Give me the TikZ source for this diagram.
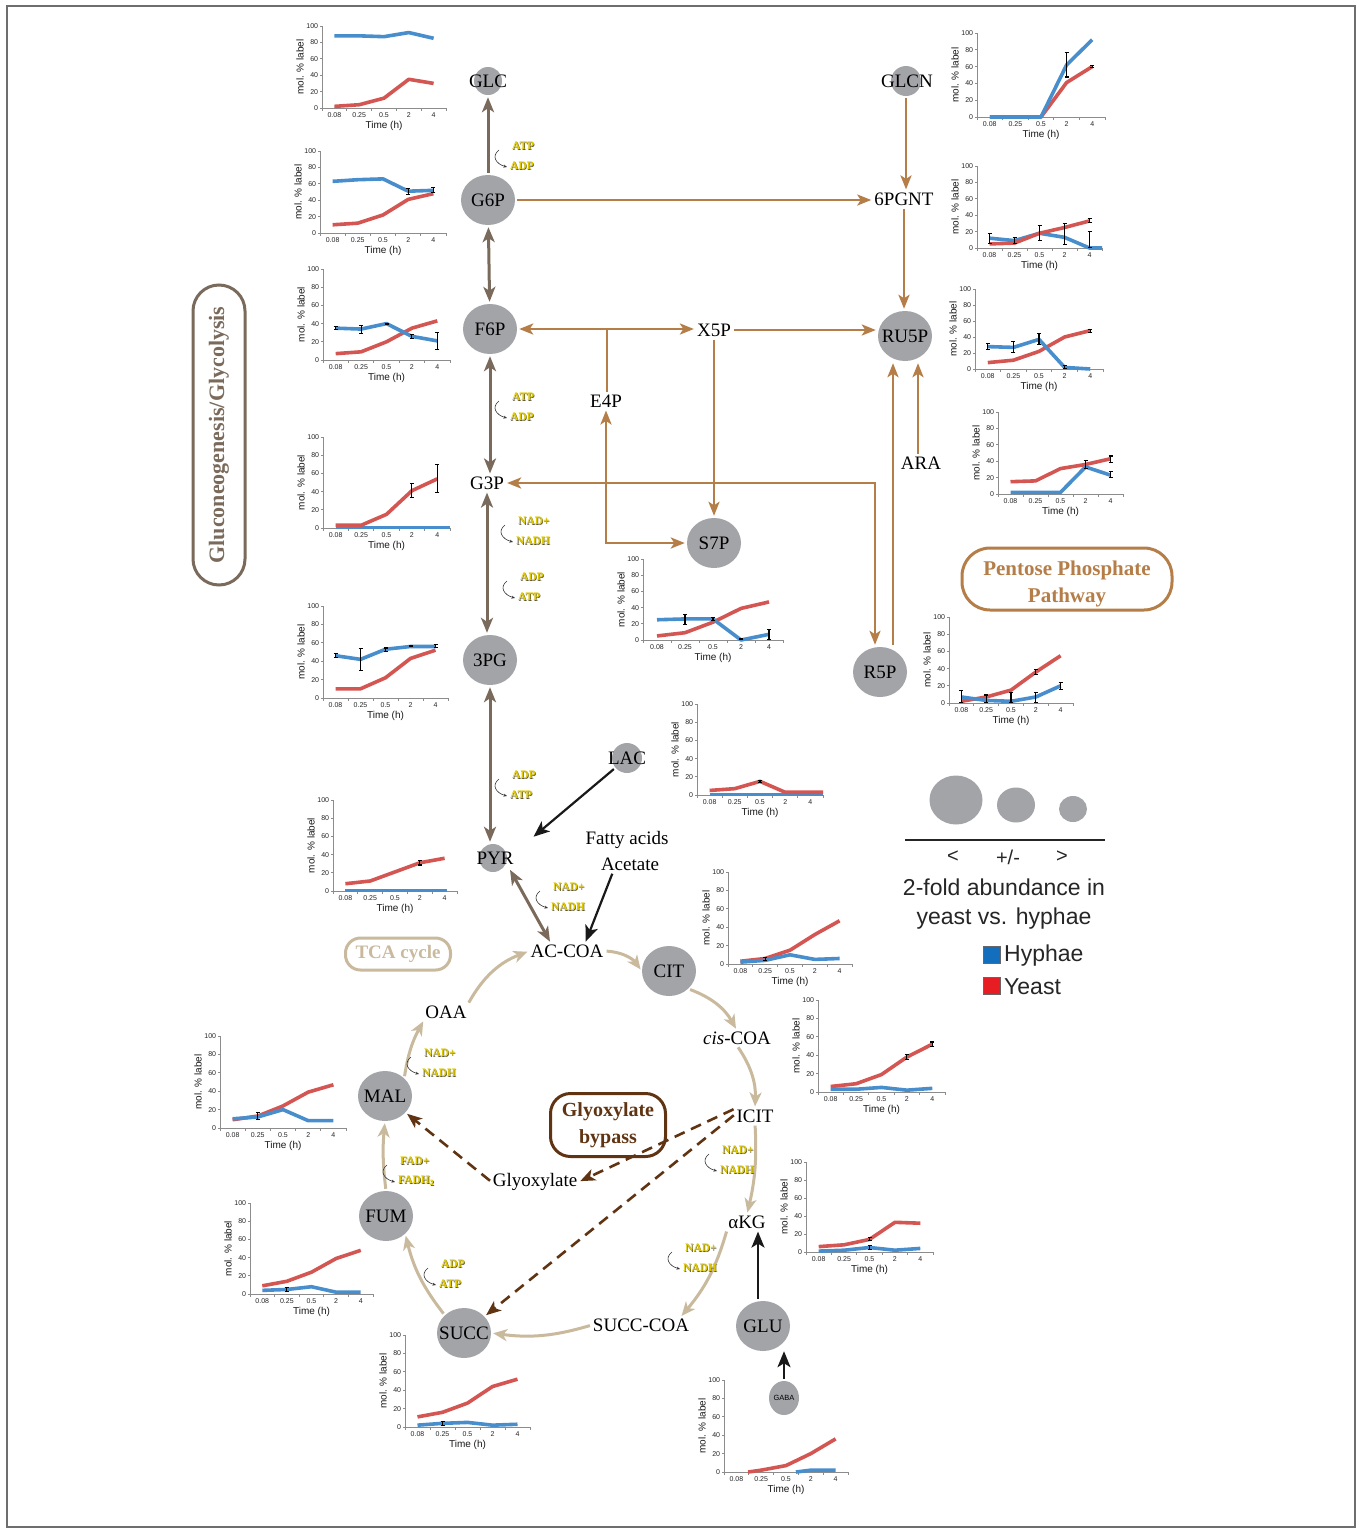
\documentclass[tikz,border=0pt]{standalone}
\usepackage{fontspec}
\setmainfont{Liberation Serif}
\setsansfont{Liberation Sans}
\usetikzlibrary{arrows.meta,shapes.geometric,calc}

\definecolor{glyc}{RGB}{122,106,92}
\definecolor{ppp}{RGB}{181,126,72}
\definecolor{tca}{RGB}{201,186,158}
\definecolor{glyox}{RGB}{96,52,18}
\definecolor{nodegray}{RGB}{163,164,168}
\definecolor{serblue}{RGB}{72,142,205}
\definecolor{serred}{RGB}{212,86,82}
\definecolor{axisgray}{RGB}{140,140,140}
\definecolor{cofy}{RGB}{222,200,0}
\definecolor{cofd}{RGB}{95,85,40}
\definecolor{framegray}{RGB}{110,110,110}
\definecolor{hyph}{RGB}{20,110,190}
\definecolor{yeast}{RGB}{230,30,35}

\newcommand\metfont{\fontsize{19}{21}\selectfont}
\newcommand\zw[1]{\makebox[0pt]{#1}}

\newcommand\chbegin[4]{%
  \pgfmathsetmacro\cw{#3/5}%
  \pgfmathsetmacro\chh{#4/100}%
  \begin{scope}[shift={(#1,#2)},x=\cw pt,y=\chh pt]
  \draw[axisline] (0,100) -- (0,0) -- (5,0);
  \foreach \v in {0,20,40,60,80,100} {\draw[axisline] (0,\v) -- ++(-2.5pt,0pt) node[ticklab,anchor=east]{\v};}
  \foreach \i in {0,...,5} {\draw[axisline] (\i,0) -- ++(0pt,-2.5pt);}
  \foreach \t [count=\i] in {0.08,0.25,0.5,2,4} {\node[ticklab,anchor=north] at ([yshift=-3pt]\i-0.5,0) {\t};}
  \node[axlab,anchor=north] at ([yshift=-13pt]2.5,0) {Time (h)};
  \node[axlab,rotate=90,anchor=south] at ([xshift=-18pt]0,50) {mol. \% label};
}
\newcommand\chend{\end{scope}}
\newcommand\myfive[6]{\draw[ser,#1] (0.5,#2)--(1.5,#3)--(2.5,#4)--(3.5,#5)--(4.5,#6);}
\newcommand\myeb[3]{\draw[errbar] (#1-0.5,#2)--(#1-0.5,#3);}

\newcommand\cofac[5]{%
  \node[cof,text=cofd] (#1s) at (#2+0.6,#3+0.6) {#4};
  \node[cof,text=cofy] (#1) at (#2,#3) {#4};
  \node[cof,text=cofd] (#1bs) at (#2-2+0.6,#3+20.6) {#5};
  \node[cof,text=cofy] (#1b) at (#2-2,#3+20) {#5};
  \draw[cofarr] (#2-13,#3+4) .. controls (#2-21,#3+10) and (#2-16,#3+18) .. (#2-5,#3+21);
}

\begin{document}
\begin{tikzpicture}[x=1pt,y=-1pt,
  met/.style={ellipse,fill=nodegray,minimum width=54pt,minimum height=50pt,inner sep=0pt,font=\metfont},
  smallc/.style={circle,fill=nodegray,minimum size=#1,inner sep=0pt,font=\metfont},
  mtxt/.style={inner sep=1pt,font=\metfont},
  ticklab/.style={font=\sffamily\fontsize{7}{8}\selectfont,inner sep=1pt,text=black!85},
  axlab/.style={font=\sffamily\fontsize{10}{11}\selectfont,inner sep=0pt,text=black!90},
  axisline/.style={draw=axisgray,line width=0.8pt},
  ser/.style={line width=3.6pt,line join=round,line cap=butt},
  errbar/.style={black,line width=1.1pt,{Bar[width=4pt]}-{Bar[width=4pt]}},
  cof/.style={anchor=west,inner sep=0pt,font=\bfseries\fontsize{11.5}{13}\selectfont},
  cofarr/.style={black!80,line width=0.6pt,-{Stealth[length=3.5pt,width=3pt]}},
  glyarr/.style={draw=glyc,line width=3pt,>={Stealth[length=15pt,width=12pt,inset=4pt]},shorten >=2pt,shorten <=2pt},
  ppparr/.style={draw=ppp,line width=2.6pt,>={Stealth[length=14pt,width=11pt,inset=3.5pt]},shorten >=2pt,shorten <=2pt},
  tcaarr/.style={draw=tca,line width=3pt,>={Stealth[length=14pt,width=12pt,inset=4pt]},shorten >=2pt,shorten <=2pt},
  gxarr/.style={draw=glyox,line width=2.6pt,dash pattern=on 11pt off 7pt,>={Stealth[length=15pt,width=12pt,inset=4pt]},shorten >=2pt,shorten <=2pt},
  blkarr/.style={draw=black!90,line width=2.2pt,>={Stealth[length=16pt,width=13pt,inset=4pt]},shorten >=2pt,shorten <=2pt},
  legt/.style={font=\sffamily\fontsize{23}{29}\selectfont,inner sep=1pt,text=black!85},
]
\useasboundingbox (0,0) rectangle (1362,1529);
\fill[white] (0,0) rectangle (1362,1529);
\draw[framegray,line width=1.5pt] (7,6) rectangle (1355,1527);

% ---------------- charts ----------------
% GLC
\chbegin{322}{108}{124}{82}
\myfive{serred}{2}{4}{12}{35}{30}
\myfive{serblue}{88}{88}{87}{92}{85}
\chend
% G6P
\chbegin{320}{233}{126}{82}
\myfive{serred}{10}{12}{22}{41}{48}
\myfive{serblue}{63}{65}{66}{51}{52}
\myeb{4}{46}{55}\myeb{5}{49}{56}
\chend
% F6P
\chbegin{323}{360}{127}{91}
\myfive{serred}{7}{9}{20}{35}{43}
\myfive{serblue}{35}{34}{40}{26}{21}
\myeb{1}{33}{37}\myeb{2}{29}{39}\myeb{3}{38}{41}\myeb{4}{23}{29}\myeb{5}{11}{31}
\chend
% G3P
\chbegin{323}{528}{127}{91}
\draw[ser,serblue] (0.5,0.5) -- (5,0.5);
\myfive{serred}{3}{3}{15}{41}{54}
\myeb{4}{33}{50}\myeb{5}{38}{70}
\chend
% 3PG
\chbegin{323}{698}{125}{92}
\myfive{serred}{10}{10}{22}{43}{52}
\myfive{serblue}{46}{42}{53}{56}{56}
\myeb{1}{43}{49}\myeb{2}{29}{54}\myeb{3}{50}{55}\myeb{4}{55}{58}\myeb{5}{54}{59}
\chend
% PYR
\chbegin{333}{891}{124}{91}
\draw[ser,serblue] (0.5,0.5) -- (4.6,0.5);
\myfive{serred}{8}{11}{21}{31}{36}
\myeb{4}{28}{34}
\chend
% GLCN
\chbegin{977}{117}{128}{84}
\myfive{serred}{0}{0}{0}{41}{60}
\myfive{serblue}{0}{0}{0}{62}{92}
\myeb{4}{47}{77}\myeb{5}{58}{62}
\chend
% 6PGNT
\chbegin{977}{248}{125}{82}
\draw[ser,serblue] (0.5,12)--(1.5,9)--(2.5,18)--(3.5,13)--(4.5,0)--(5,0);
\myfive{serred}{5}{6}{18}{25}{33}
\myeb{1}{5}{18}\myeb{2}{5}{13}\myeb{3}{9}{28}\myeb{4}{4}{31}\myeb{5}{0}{21}\myeb{5}{30}{37}
\chend
% RU5P
\chbegin{975}{369}{128}{80}
\myfive{serred}{8}{11}{22}{40}{48}
\myfive{serblue}{28}{27}{37}{2}{0}
\myeb{1}{24}{33}\myeb{2}{20}{35}\myeb{3}{30}{45}\myeb{4}{0}{5}\myeb{5}{45}{50}
\chend
% ARA
\chbegin{998}{494}{125}{82}
\myfive{serred}{15}{16}{31}{36}{43}
\myfive{serblue}{2}{2}{2}{33}{23}
\myeb{4}{30}{42}\myeb{5}{19}{28}\myeb{5}{38}{47}
\chend
% R5P
\chbegin{949}{703}{124}{86}
\myfive{serred}{2}{7}{15}{36}{55}
\myfive{serblue}{7}{3}{2}{7}{20}
\myeb{1}{0}{15}\myeb{2}{0}{10}\myeb{3}{0}{13}\myeb{4}{0}{13}\myeb{4}{33}{40}\myeb{5}{15}{25}
\chend
% S7P
\chbegin{643}{640}{140}{81}
\myfive{serred}{5}{9}{22}{39}{47}
\myfive{serblue}{25}{26}{26}{0}{7}
\myeb{2}{19}{32}\myeb{3}{23}{29}\myeb{4}{0}{3}\myeb{5}{0}{14}
\chend
% LAC
\chbegin{697}{795}{126}{91}
\draw[ser,serblue] (0.5,0.5) -- (5,0.5);
\draw[ser,serred] (0.5,5)--(1.5,7)--(2.5,15)--(3.5,3)--(4.5,3)--(5,3);
\myeb{3}{13}{17}
\chend
% CIT
\chbegin{728}{964}{124}{92}
\myfive{serred}{3}{6}{15}{32}{47}
\myfive{serblue}{2}{4}{10}{5}{6}
\myeb{2}{3}{8}
\chend
% cis-COA
\chbegin{818}{1092}{127}{92}
\myfive{serred}{6}{9}{19}{38}{52}
\myfive{serblue}{3}{3}{5}{2}{4}
\myeb{4}{35}{41}\myeb{5}{49}{55}
\chend
% aKG
\chbegin{806}{1252}{127}{90}
\myfive{serred}{6}{8}{14}{33}{32}
\myfive{serblue}{1}{2}{5}{2}{4}
\myeb{3}{2}{8}\myeb{3}{12}{17}
\chend
% MAL
\chbegin{220}{1128}{126}{92}
\myfive{serred}{9}{13}{24}{39}{47}
\myfive{serblue}{10}{12}{20}{8}{8}
\myeb{2}{9}{17}
\chend
% FUM
\chbegin{250}{1294}{123}{91}
\myfive{serred}{9}{14}{24}{39}{48}
\myfive{serblue}{4}{5}{8}{2}{2}
\myeb{2}{2}{8}
\chend
% SUCC
\chbegin{405}{1427}{125}{92}
\myfive{serred}{11}{16}{26}{44}{52}
\myfive{serblue}{2}{4}{5}{2}{3}
\myeb{2}{1}{7}
\chend
% GABA
\chbegin{724}{1472}{124}{92}
\draw[ser,serblue] (2.9,0)--(3.5,2)--(4.5,2);
\draw[ser,serred] (0.97,0)--(1.5,2)--(2.5,7)--(3.5,20)--(4.5,36);
\chend

% ---------------- metabolites ----------------
\node[smallc=28pt] (GLCc) at (488,81) {};
\node[mtxt] (GLC) at (488,81) {GLC};
\node[met] (G6P) at (488,200) {\zw{G6P}};
\node[met] (F6P) at (490,329) {\zw{F6P}};
\node[mtxt] (G3P) at (487,483) {G3P};
\node[met] (PG3) at (490,660) {\zw{3PG}};
\node[smallc=28pt] (PYR) at (493,858) {};
\node[mtxt] (PYRt) at (495,858) {PYR};
\node[smallc=30pt] (GLCNc) at (906,81) {};
\node[mtxt] (GLCN) at (907,81) {GLCN};
\node[mtxt] (PGNT) at (904,199) {6PGNT};
\node[mtxt] (X5P) at (714,330) {X5P};
\node[met] (RU5P) at (905,336) {\zw{RU5P}};
\node[mtxt] (E4P) at (606,401) {E4P};
\node[mtxt] (ARA) at (921,463) {ARA};
\node[met] (S7P) at (714,543) {\zw{S7P}};
\node[met] (R5P) at (880,672) {\zw{R5P}};
\node[smallc=30pt] (LAC) at (627,758) {};
\node[mtxt] (LACt) at (627,758) {LAC};
\node[mtxt,align=center,font=\fontsize{19}{26}\selectfont] (FA) at (627,851) {Fatty acids\\\hspace*{6pt}Acetate};
\node[mtxt] (ACCOA) at (567,951) {AC-COA};
\node[met] (CIT) at (669,971) {\zw{CIT}};
\node[mtxt] (cisCOA) at (737,1038) {\textit{cis}-COA};
\node[mtxt] (ICIT) at (755,1116) {ICIT};
\node[mtxt] (aKG) at (747,1222) {αKG};
\node[met] (GLU) at (763,1326) {\zw{GLU}};
\node[ellipse,fill=nodegray,minimum width=30pt,minimum height=34pt,inner sep=0pt,font=\sffamily\fontsize{7.5}{9}\selectfont] (GABA) at (784,1398) {\zw{GABA}};
\node[mtxt] (SUCCCOA) at (641,1325) {SUCC-COA};
\node[met] (SUCC) at (464,1333) {\zw{SUCC}};
\node[met] (FUM) at (386,1216) {\zw{FUM}};
\node[met] (MAL) at (385,1096) {\zw{MAL}};
\node[mtxt] (OAA) at (446,1012) {OAA};
\node[mtxt] (Glyox) at (535,1182) {Glyoxylate};

% ---------------- pathway labels ----------------
\node[draw=glyc,line width=3pt,rounded corners=26pt,rotate=90,minimum width=300pt,minimum height=52pt,inner sep=0pt,text=glyc,font=\bfseries\fontsize{22}{24}\selectfont] (gbox) at (219,435) {Gluconeogenesis/Glycolysis};
\node[draw=ppp,line width=3pt,rounded corners=28pt,minimum width=210pt,minimum height=62pt,inner sep=0pt] (pbox) at (1067,579) {};
\node[inner sep=0pt,align=center,text=ppp,font=\bfseries\fontsize{21}{27}\selectfont] (pboxt) at (1067,584) {Pentose Phosphate\\Pathway};
\node[draw=glyox,line width=3pt,rounded corners=20pt,minimum width=115pt,minimum height=63pt,inner sep=0pt,align=center,text=glyox,font=\bfseries\fontsize{20}{27}\selectfont] (gxbox) at (608,1125) {Glyoxylate\\bypass};
\node[draw=tca,line width=3pt,rounded corners=15pt,minimum width=105pt,minimum height=32pt,inner sep=0pt,text=tca,font=\bfseries\fontsize{19}{21}\selectfont] (tbox) at (398,954) {TCA cycle};

% ---------------- glycolysis arrows ----------------
\draw[glyarr,->] (G6P) -- (GLCc);
\draw[glyarr,<->] (G6P) -- (F6P);
\draw[glyarr,<->] (F6P.south) -- (F6P.south |- G3P.north);
\draw[glyarr,<->] (G3P.south) -- (G3P.south |- PG3.north);
\draw[glyarr,<->] (PG3.south) -- (PG3.south |- PYR.north);
\draw[glyarr,<->] ([xshift=6pt]PYR.south east) -- ([xshift=-16pt]ACCOA.north);

% ---------------- pentose phosphate arrows ----------------
\draw[ppparr,->] (G6P.east) -- (G6P.east -| PGNT.west);
\draw[ppparr,->] (GLCNc.south) -- (GLCNc.south |- PGNT.north);
\draw[ppparr,->] (PGNT.south) -- (PGNT.south |- RU5P.north);
\draw[ppparr,<->] (F6P.east) -- (F6P.east -| X5P.west);
\draw[ppparr,->] (X5P.east) -- (X5P.east -| RU5P.west);
\coordinate (br) at (607,329);
\draw[ppparr,shorten <=0pt] (br) -- (br |- E4P.north);
\draw[ppparr,<->] (E4P.south) |- (S7P.west);
\draw[ppparr,->] (X5P.south) -- (X5P.south |- S7P.north);
\draw[ppparr,<->] (G3P.east) -| ([xshift=-5pt]R5P.north);
\draw[ppparr,->] ([xshift=13pt]R5P.north) -- ([xshift=13pt]R5P.north |- RU5P.south);
\draw[ppparr,->] ([xshift=-3pt]ARA.north) -- ([xshift=-3pt]ARA.north |- RU5P.south);

% ---------------- TCA arrows ----------------
\draw[tcaarr,->] (ACCOA.east) to[bend left=25] (CIT.west);
\draw[tcaarr,->] (OAA.north east) to[bend left=20] (ACCOA.west);
\draw[tcaarr,->] (CIT.south east) to[bend left=20] (cisCOA.north);
\draw[tcaarr,->] (cisCOA.south) to[bend left=18] (ICIT.north);
\draw[tcaarr,->] (ICIT.south) to[bend left=8] (aKG.north);
\draw[tcaarr,->] (aKG.south west) to[bend left=12] ([xshift=-10pt]SUCCCOA.north east);
\draw[tcaarr,->] (SUCCCOA.west) to[bend left=12] (SUCC.east);
\draw[tcaarr,->] (SUCC.north west) to[bend left=12] (FUM.south east);
\draw[tcaarr,->] (FUM.north) to[bend left=6] (MAL.south);
\draw[tcaarr,->] (MAL.north east) to[bend left=10] (OAA.south west);

% ---------------- glyoxylate bypass ----------------
\draw[gxarr,->] (ICIT.north west) -- (Glyox.east);
\draw[gxarr,->] (Glyox.west) -- (MAL);
\draw[gxarr,->] ([yshift=2pt]ICIT.west) -- (SUCC);

% ---------------- black arrows ----------------
\coordinate (pyrin) at (532,838);
\draw[blkarr,->] (LAC) -- (pyrin);
\draw[blkarr,->] ([xshift=-14pt]FA.south) -- ([xshift=18pt]ACCOA.north);
\draw[blkarr,->] ([xshift=-5pt]GLU.north) -- ([xshift=-5pt]GLU.north |- aKG.south);
\draw[blkarr,->,shorten >=0pt] (GABA.north) -- (GABA.north |- GLU.south);

% ---------------- cofactors ----------------
\cofac{ca}{512}{146}{ATP}{ADP}
\cofac{cb}{512}{397}{ATP}{ADP}
\cofac{cc}{518}{521}{NAD+}{NADH}
\cofac{cd}{520}{577}{ADP}{ATP}
\cofac{ce}{512}{775}{ADP}{ATP}
\cofac{cf}{553}{887}{NAD+}{NADH}
\cofac{cg}{424}{1053}{NAD+}{NADH}
\cofac{ch}{400}{1161}{FAD+}{FADH\textsubscript{2}}
\cofac{ci}{441}{1264}{ADP}{ATP}
\cofac{cj}{722}{1150}{NAD+}{NADH}
\cofac{ck}{685}{1248}{NAD+}{NADH}

% ---------------- legend ----------------
\node[ellipse,fill=nodegray,minimum width=53pt,minimum height=49pt] (L1) at (956,800) {};
\node[ellipse,fill=nodegray,minimum width=38pt,minimum height=35pt] (L2) at (1016,805) {};
\node[ellipse,fill=nodegray,minimum width=28pt,minimum height=26pt] (L3) at (1073,809) {};
\draw[black!85,line width=1.6pt] (905,840) -- (1105,840);
\node[legt,font=\sffamily\fontsize{20}{22}\selectfont] (lt1) at (953,857) {<};
\node[legt,font=\sffamily\fontsize{20}{22}\selectfont] (lt2) at (1008,857) {+/-};
\node[legt,font=\sffamily\fontsize{20}{22}\selectfont] (lt3) at (1062,857) {>};
\node[legt,align=center] (lt4) at (1004,904) {2-fold abundance in\\yeast vs. hyphae};
\node[fill=hyph,draw=black!60,line width=0.6pt,minimum size=17pt,inner sep=0pt] (hsq) at (992,955) {};
\node[legt,anchor=west] (hlab) at (1003,956) {Hyphae};
\node[fill=yeast,draw=black!60,line width=0.6pt,minimum size=17pt,inner sep=0pt] (ysq) at (992,986) {};
\node[legt,anchor=west] (ylab) at (1003,987) {Yeast};
\end{tikzpicture}
\end{document}
